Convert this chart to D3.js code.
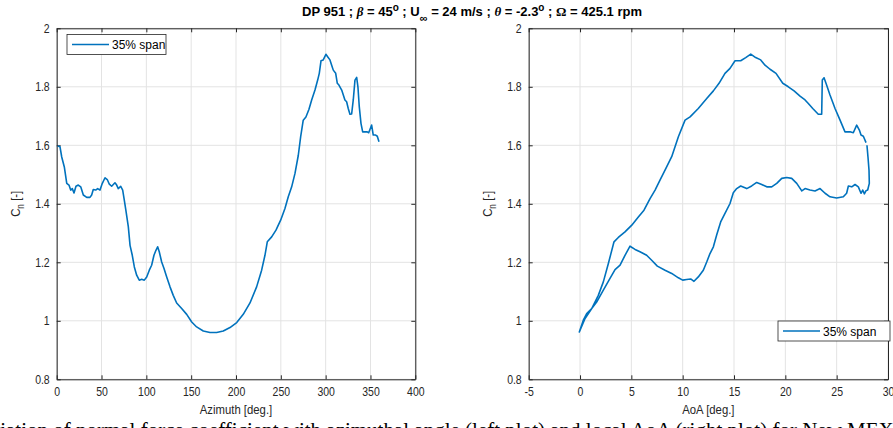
<!DOCTYPE html>
<html>
<head>
<meta charset="utf-8">
<script src="https://cdn.jsdelivr.net/npm/d3@7"></script>
<style>
  body { margin: 0; background: #fff; overflow: hidden; }
  svg { display: block; }
  .tick text { font-family: "Liberation Sans Narrow", "Liberation Sans", Arial, sans-serif; font-size: 12.5px; fill: #262626; }
</style>
</head>
<body>
<div id="chart"></div>
<script>
// Left plot: Cn against azimuth
const azimuth = [1.1,3.7,5.6,8.5,11.2,13.7,15.6,17.4,19.3,21.5,24.1,26.8,29.7,33.5,37.1,39,40.8,43.5,45.7,48.3,50.9,53.9,56.4,58.7,61.3,65,66.9,68.7,71.4,73.6,75,77.3,79.9,81.8,84.3,86.6,89.2,92.1,94.8,97.7,100.4,103.3,105.9,108.5,110.7,112.6,114.4,117.1,119.7,122.7,126.4,130,133.8,139.4,145,150.6,156.1,163.5,171,178.4,185.8,193.3,200.8,208.1,215.6,223,228.6,232.3,234.9,239.8,244.6,249.8,254.6,258.3,262.1,265.8,269.5,272.1,275,278,281.4,284.4,288.1,291.1,292.9,294.8,297.3,300.3,302.2,304.8,306.7,308.5,311.2,313,314.8,317.9,319.7,321.5,323.4,325.2,327.1,329,330.8,332.7,334.6,336,337.5,339.4,341.3,343.8,346.4,348,349.4,351.3,353.1,355.8,357.6,359.5];
const cnAzimuth = [1.598,1.595,1.56,1.526,1.47,1.464,1.447,1.452,1.437,1.46,1.464,1.458,1.43,1.422,1.422,1.43,1.449,1.447,1.452,1.447,1.47,1.489,1.483,1.467,1.46,1.472,1.464,1.452,1.46,1.447,1.42,1.375,1.321,1.258,1.224,1.184,1.156,1.139,1.142,1.139,1.15,1.173,1.19,1.224,1.241,1.253,1.236,1.201,1.179,1.15,1.116,1.087,1.061,1.042,1.022,0.996,0.979,0.965,0.96,0.96,0.965,0.977,0.994,1.022,1.061,1.116,1.173,1.224,1.27,1.287,1.31,1.344,1.384,1.424,1.458,1.504,1.566,1.629,1.686,1.697,1.723,1.755,1.789,1.823,1.846,1.889,1.892,1.911,1.903,1.892,1.874,1.857,1.846,1.812,1.806,1.789,1.772,1.755,1.749,1.726,1.706,1.707,1.755,1.823,1.832,1.8,1.732,1.675,1.646,1.646,1.646,1.643,1.654,1.669,1.635,1.635,1.631,1.612];

// Right plot: Cn against local AoA
const aoa = [27.95,28.05,28.15,28.18,28.02,27.86,27.7,27.54,27.37,27.11,26.79,26.47,26.14,25.97,25.65,25,24.35,23.87,23.38,22.89,22.4,21.92,21.6,21.11,20.62,20.13,19.65,19.16,18.67,18.19,17.7,17.21,16.72,16.24,15.65,15.26,14.93,14.61,14.12,13.7,13.31,12.99,12.66,12.34,12.01,11.52,11.1,10.78,10.39,10,9.58,8.93,8.28,7.53,6.98,6.49,5.84,5.36,4.87,4.38,3.9,3.41,2.92,2.27,1.62,1.14,0.49,-0.07,0.32,0.65,1.14,1.78,2.27,2.76,3.31,3.73,4.38,5.04,5.68,6.23,6.82,7.31,7.79,8.28,8.93,9.58,10.23,10.72,11.52,12.34,12.99,13.54,14.12,14.61,15.1,15.65,16.14,16.63,17.11,17.6,18.02,18.51,19.09,19.75,20.29,20.85,21.43,21.92,22.24,22.67,23.21,23.54,23.6,23.77,23.96,24.35,24.84,25.33,25.81,26.3,26.62,26.95,27.21,27.37,27.6,27.86];
const cnAoa = [1.6,1.56,1.515,1.47,1.447,1.445,1.434,1.447,1.436,1.458,1.466,1.458,1.461,1.436,1.424,1.42,1.424,1.436,1.452,1.444,1.447,1.452,1.444,1.47,1.487,1.49,1.487,1.47,1.458,1.458,1.466,1.473,1.461,1.452,1.461,1.452,1.438,1.401,1.367,1.338,1.293,1.253,1.23,1.201,1.173,1.15,1.135,1.143,1.141,1.139,1.147,1.162,1.173,1.187,1.207,1.224,1.236,1.244,1.255,1.224,1.19,1.175,1.145,1.105,1.064,1.042,1.008,0.962,1.002,1.025,1.042,1.087,1.133,1.196,1.27,1.285,1.304,1.327,1.355,1.378,1.418,1.447,1.481,1.515,1.561,1.629,1.686,1.697,1.726,1.76,1.786,1.812,1.846,1.863,1.889,1.889,1.9,1.912,1.9,1.892,1.874,1.86,1.846,1.812,1.8,1.786,1.768,1.755,1.743,1.726,1.706,1.706,1.823,1.831,1.812,1.772,1.726,1.686,1.646,1.646,1.643,1.669,1.652,1.635,1.631,1.609];

const azimuthTicks = [0, 50, 100, 150, 200, 250, 300, 350, 400];
const aoaTicks = [-5, 0, 5, 10, 15, 20, 25, 30];
const cnTicks = [0.8, 1, 1.2, 1.4, 1.6, 1.8, 2];
const seriesName = "35% span";

const W = 893, H = 428;
const blue = "#0072BD";
const narrow = 0.84; // squeeze factor for the MATLAB narrow axis font
const svg = d3.select("#chart").append("svg").attr("width", W).attr("height", H);

const plotTop = 28.3, plotBottom = 379.3;

// Title
const title = svg.append("text")
  .attr("x", 472).attr("y", 16)
  .attr("text-anchor", "middle")
  .style("font-family", "Liberation Sans, Arial, sans-serif")
  .style("font-weight", "bold").style("font-size", "13px").attr("fill", "#000");
title.append("tspan").text("DP 951 ; ");
title.append("tspan").style("font-family", "Liberation Serif, serif").style("font-style", "italic").text("β");
title.append("tspan").text(" = 45");
title.append("tspan").attr("dy", -5).style("font-size", "10px").text("o");
title.append("tspan").attr("dy", 5).text(" ; U");
title.append("tspan").attr("dy", 6).style("font-size", "11px").text("∞");
title.append("tspan").attr("dy", -6).text(" = 24 m/s ; ");
title.append("tspan").style("font-family", "Liberation Serif, serif").style("font-style", "italic").text("θ");
title.append("tspan").text(" = -2.3");
title.append("tspan").attr("dy", -5).style("font-size", "10px").text("o");
title.append("tspan").attr("dy", 5).text(" ; ");
title.append("tspan").style("font-family", "Liberation Serif, serif").text("Ω");
title.append("tspan").text(" = 425.1 rpm");

function drawPanel(opts) {
  const x = d3.scaleLinear().domain(opts.xDomain).range([opts.left, opts.right]);
  const y = d3.scaleLinear().domain([0.8, 2]).range([plotBottom, plotTop]);
  const g = svg.append("g");

  // grid
  g.append("g").selectAll("line").data(opts.xTicks).join("line")
    .attr("x1", d => x(d)).attr("x2", d => x(d)).attr("y1", plotTop).attr("y2", plotBottom)
    .attr("stroke", "#e3e3e3").attr("stroke-width", 1);
  g.append("g").selectAll("line").data(cnTicks).join("line")
    .attr("x1", opts.left).attr("x2", opts.right).attr("y1", d => y(d)).attr("y2", d => y(d))
    .attr("stroke", "#e3e3e3").attr("stroke-width", 1);

  // axes (MATLAB style, ticks inward, box on)
  const fmt = d => String(d);
  const dark = a => {
    a.select(".domain").attr("stroke", "#262626");
    a.selectAll(".tick line").attr("stroke", "#262626");
  };
  g.append("g").attr("transform", `translate(0,${plotBottom})`)
    .call(d3.axisBottom(x).tickValues(opts.xTicks).tickFormat(fmt).tickSizeInner(-4).tickSizeOuter(0).tickPadding(8))
    .call(dark)
    .call(a => a.selectAll(".tick text").attr("transform", `scale(${narrow},1)`));
  g.append("g").attr("transform", `translate(0,${plotTop})`)
    .call(d3.axisTop(x).tickValues(opts.xTicks).tickFormat("").tickSizeInner(-4).tickSizeOuter(0))
    .call(dark);
  g.append("g").attr("transform", `translate(${opts.left},0)`)
    .call(d3.axisLeft(y).tickValues(cnTicks).tickFormat(fmt).tickSizeInner(-4).tickSizeOuter(0).tickPadding(7))
    .call(dark)
    .call(a => a.selectAll(".tick text").attr("x", -7 / narrow).attr("transform", `scale(${narrow},1)`));
  g.append("g").attr("transform", `translate(${opts.right},0)`)
    .call(d3.axisRight(y).tickValues(cnTicks).tickFormat("").tickSizeInner(-4).tickSizeOuter(0))
    .call(dark);

  // line
  const pts = opts.xs.map((v, i) => [v, opts.ys[i]]);
  g.append("path").datum(pts)
    .attr("fill", "none").attr("stroke", blue).attr("stroke-width", 1.6)
    .attr("stroke-linejoin", "round")
    .attr("d", d3.line().x(d => x(d[0])).y(d => y(d[1])));

  // axis labels
  const cx = (opts.left + opts.right) / 2;
  g.append("text")
    .attr("transform", `translate(${cx},414) scale(${narrow},1)`)
    .attr("text-anchor", "middle")
    .style("font-family", "Liberation Sans Narrow, Liberation Sans, Arial, sans-serif").style("font-size", "13.5px")
    .attr("fill", "#262626").text(opts.xLabel);
  const yl = g.append("text")
    .attr("transform", `translate(${opts.left - 37},${y(1.4)}) rotate(-90) scale(${narrow},1)`)
    .attr("text-anchor", "middle")
    .style("font-family", "Liberation Sans Narrow, Liberation Sans, Arial, sans-serif").style("font-size", "13.5px")
    .attr("fill", "#262626");
  yl.append("tspan").text("C");
  yl.append("tspan").attr("dy", 4).style("font-size", "10px").text("n");
  yl.append("tspan").attr("dy", -4).text(" [-]");

  // legend
  const L = opts.legend;
  g.append("rect").attr("x", L.x).attr("y", L.y).attr("width", L.w).attr("height", 20)
    .attr("fill", "#fff").attr("stroke", "#262626").attr("stroke-width", 0.8);
  g.append("line").attr("x1", L.x + 5).attr("x2", L.x + 42).attr("y1", L.y + 10).attr("y2", L.y + 10)
    .attr("stroke", blue).attr("stroke-width", 1.6);
  g.append("text").attr("x", L.x + 45).attr("y", L.y + 14.5)
    .style("font-family", "Liberation Sans, Arial, sans-serif").style("font-size", "12px")
    .attr("fill", "#000").text(seriesName);
}

drawPanel({
  xDomain: [0, 400], left: 56.7, right: 415.3, xTicks: azimuthTicks,
  xs: azimuth, ys: cnAzimuth, xLabel: "Azimuth [deg.]",
  legend: { x: 67, y: 34.5, w: 99 }
});
drawPanel({
  xDomain: [-5, 30], left: 528.7, right: 888, xTicks: aoaTicks,
  xs: aoa, ys: cnAoa, xLabel: "AoA [deg.]",
  legend: { x: 778, y: 321, w: 112 }
});

// Caption (cut by the bottom edge of the picture, as in the source page)
svg.append("text").attr("x", -29).attr("y", 437)
  .style("font-family", "Liberation Serif, Times New Roman, serif").style("font-size", "21px")
  .attr("fill", "#000")
  .text("Variation of normal force coefficient with azimuthal angle (left plot) and local AoA (right plot) for New MEXICO");
</script>
</body>
</html>
